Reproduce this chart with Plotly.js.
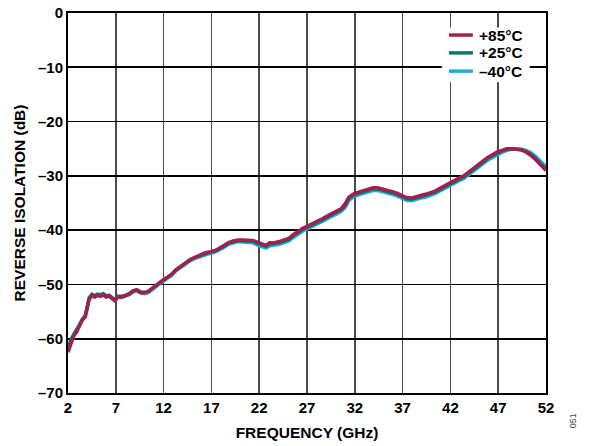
<!DOCTYPE html>
<html><head><meta charset="utf-8">
<script src="https://cdn.plot.ly/plotly-3.0.1.min.js"></script>
<style>html,body{margin:0;padding:0;background:#fff}#c{width:591px;height:446px}</style>
</head><body><div id="c"></div>
<script>
const freqGHz = [2.0,2.3,2.6,2.9,3.2,3.5,3.8,4.0,4.2,4.5,
4.8,5.1,5.4,5.7,6.0,6.3,6.6,6.9,7.2,7.6,
8.0,8.4,8.8,9.2,9.6,10.0,10.4,10.8,11.3,11.8,
12.3,12.8,13.3,13.8,14.3,14.8,15.3,15.8,16.3,16.8,
17.3,17.8,18.3,18.8,19.3,19.8,20.3,20.8,21.3,21.8,
22.3,22.7,23.1,23.6,24.1,24.6,25.1,25.6,26.1,26.6,
27.1,27.6,28.1,28.6,29.1,29.6,30.1,30.6,31.0,31.4,
31.9,32.4,32.9,33.4,33.9,34.4,34.9,35.4,35.9,36.4,
36.9,37.4,37.9,38.4,38.9,39.4,39.9,40.4,40.9,41.4,
41.9,42.4,42.9,43.4,43.9,44.4,44.9,45.4,45.9,46.4,
46.9,47.4,47.9,48.4,48.9,49.4,49.9,50.4,50.9,51.4,
52.0];
const iso85 = [-62.5,-60.8,-59.5,-58.8,-57.5,-56.5,-56.0,-54.5,-52.8,-52.0,
-52.3,-52.0,-52.2,-51.9,-52.3,-52.1,-52.6,-53.0,-52.3,-52.3,
-52.1,-51.8,-51.2,-51.0,-51.5,-51.5,-51.3,-50.7,-50.0,-49.4,
-48.8,-48.2,-47.3,-46.6,-46.0,-45.4,-45.0,-44.6,-44.2,-44.0,
-43.8,-43.4,-42.9,-42.3,-42.0,-41.8,-41.8,-41.9,-41.9,-42.2,
-42.6,-42.8,-42.3,-42.3,-42.1,-41.8,-41.5,-40.8,-40.1,-39.6,
-39.2,-38.8,-38.3,-37.9,-37.4,-37.0,-36.5,-36.0,-35.1,-33.9,
-33.3,-33.0,-32.7,-32.4,-32.2,-32.2,-32.4,-32.6,-32.9,-33.2,
-33.6,-34.0,-34.1,-33.8,-33.6,-33.4,-33.1,-32.8,-32.3,-31.8,
-31.3,-30.9,-30.4,-30.0,-29.3,-28.7,-27.9,-27.3,-26.6,-26.1,
-25.6,-25.3,-25.0,-25.0,-25.1,-25.2,-25.6,-26.2,-27.0,-27.9,
-29.0];
const iso25 = [-61.8,-60.2,-59.2,-58.3,-57.2,-56.3,-55.7,-54.3,-52.5,-51.8,
-52.1,-51.8,-51.9,-51.7,-52.1,-52.0,-52.4,-52.8,-52.2,-52.2,
-52.0,-51.7,-51.2,-51.0,-51.4,-51.5,-51.3,-50.7,-50.0,-49.4,
-48.8,-48.2,-47.3,-46.6,-46.0,-45.4,-45.0,-44.7,-44.3,-44.1,
-43.9,-43.5,-43.0,-42.4,-42.1,-41.9,-42.0,-42.0,-42.0,-42.4,
-42.8,-43.0,-42.6,-42.5,-42.3,-42.0,-41.7,-41.0,-40.3,-39.8,
-39.4,-39.0,-38.5,-38.1,-37.6,-37.2,-36.7,-36.2,-35.4,-34.1,
-33.5,-33.2,-32.9,-32.6,-32.4,-32.4,-32.6,-32.8,-33.1,-33.4,
-33.8,-34.2,-34.3,-34.0,-33.8,-33.6,-33.3,-33.0,-32.5,-32.0,
-31.5,-31.1,-30.6,-30.2,-29.5,-28.9,-28.1,-27.5,-26.8,-26.3,
-25.8,-25.4,-25.1,-25.0,-25.1,-25.2,-25.5,-26.0,-26.8,-27.7,
-28.8];
const isoM40 = [-62.0,-60.5,-59.4,-58.5,-57.4,-56.4,-55.9,-54.5,-52.7,-52.0,
-52.3,-52.0,-52.1,-51.9,-52.3,-52.2,-52.6,-53.0,-52.4,-52.4,
-52.1,-51.9,-51.4,-51.2,-51.6,-51.7,-51.5,-50.9,-50.2,-49.6,
-49.0,-48.4,-47.5,-46.8,-46.2,-45.6,-45.2,-44.9,-44.5,-44.3,
-44.1,-43.7,-43.2,-42.6,-42.3,-42.1,-42.2,-42.3,-42.3,-42.7,
-43.1,-43.3,-42.9,-42.8,-42.6,-42.3,-42.0,-41.3,-40.6,-40.1,
-39.7,-39.3,-38.8,-38.4,-37.9,-37.5,-37.0,-36.5,-35.8,-34.5,
-33.8,-33.5,-33.2,-32.9,-32.7,-32.7,-32.9,-33.1,-33.4,-33.7,
-34.1,-34.5,-34.6,-34.3,-34.1,-33.9,-33.6,-33.3,-32.8,-32.3,
-31.8,-31.4,-30.9,-30.5,-29.8,-29.2,-28.4,-27.8,-27.1,-26.6,
-26.1,-25.7,-25.3,-25.1,-25.1,-25.1,-25.3,-25.7,-26.4,-27.2,
-28.3];
const seriesNames = ["+85°C","+25°C","–40°C"];
const xTickVals = [2,7,12,17,22,27,32,37,42,47,52];
const xTickText = ["2","7","12","17","22","27","32","37","42","47","52"];
const yTickVals = [0,-10,-20,-30,-40,-50,-60,-70];
const yTickText = ["0","–10","–20","–30","–40","–50","–60","–70"];

const FONT = "Arial, 'Liberation Sans', Helvetica, sans-serif";
const seriesColors = ["#A3204D","#00796F","#22AADF"];
const traces = [
  {x:freqGHz, y:isoM40, name:seriesNames[2], mode:"lines", line:{color:seriesColors[2], width:3.5}},
  {x:freqGHz, y:iso25, name:seriesNames[1], mode:"lines", line:{color:seriesColors[1], width:3.5}},
  {x:freqGHz, y:iso85, name:seriesNames[0], mode:"lines", line:{color:seriesColors[0], width:3.5}}
];
const tf = {family:FONT, size:15, color:"#000", weight:"bold"};
const axisCommon = {
  showline:true, mirror:true, linecolor:"#000", linewidth:2,
  showgrid:true, gridwidth:1.6,
  zeroline:false, ticks:"", tickmode:"array", tickfont:tf
};
// manual legend (compact spacing like reference)
const legX0 = 0.797, legX1 = 0.847, legTextX = 0.855;
const legY = [0.942, 0.895, 0.847];
const shapes = [
  {type:"rect", xref:"paper", yref:"paper", x0:0.782, x1:0.966, y0:0.818, y1:0.962,
   fillcolor:"#fff", line:{width:0}, layer:"above"}
];
const annotations = [];
seriesNames.forEach((n,i)=>{
  shapes.push({type:"line", xref:"paper", yref:"paper", x0:legX0, x1:legX1, y0:legY[i], y1:legY[i],
    line:{color:seriesColors[i], width:3.5}, layer:"above"});
  annotations.push({text:n, xref:"paper", yref:"paper", x:legTextX, y:legY[i], xanchor:"left", yanchor:"middle",
    showarrow:false, font:{family:FONT, size:15.5, color:"#000", weight:"bold"}});
});
annotations.push({text:"051", xref:"paper", yref:"paper", x:1.071, y:-0.097, showarrow:false,
  textangle:-90, font:{family:FONT, size:9, color:"#444"}});
const layout = {
  width:591, height:446,
  margin:{l:68, r:45, t:13, b:53},
  paper_bgcolor:"#fff", plot_bgcolor:"#fff",
  showlegend:false,
  xaxis:Object.assign({}, axisCommon, {range:[2,52], tickvals:xTickVals, ticktext:xTickText, gridcolor:"#4a4a4a",
    title:{text:"FREQUENCY (GHz)", standoff:12, font:{family:FONT, size:15.5, color:"#000", weight:"bold"}}}),
  yaxis:Object.assign({}, axisCommon, {range:[-70,0], tickvals:yTickVals, ticktext:yTickText, gridcolor:"#000",
    title:{text:"REVERSE ISOLATION (dB)", standoff:9, font:{family:FONT, size:15.5, color:"#000", weight:"bold"}}}),
  shapes:shapes,
  annotations:annotations
};
Plotly.newPlot("c", traces, layout, {displayModeBar:false, staticPlot:true});
</script></body></html>
